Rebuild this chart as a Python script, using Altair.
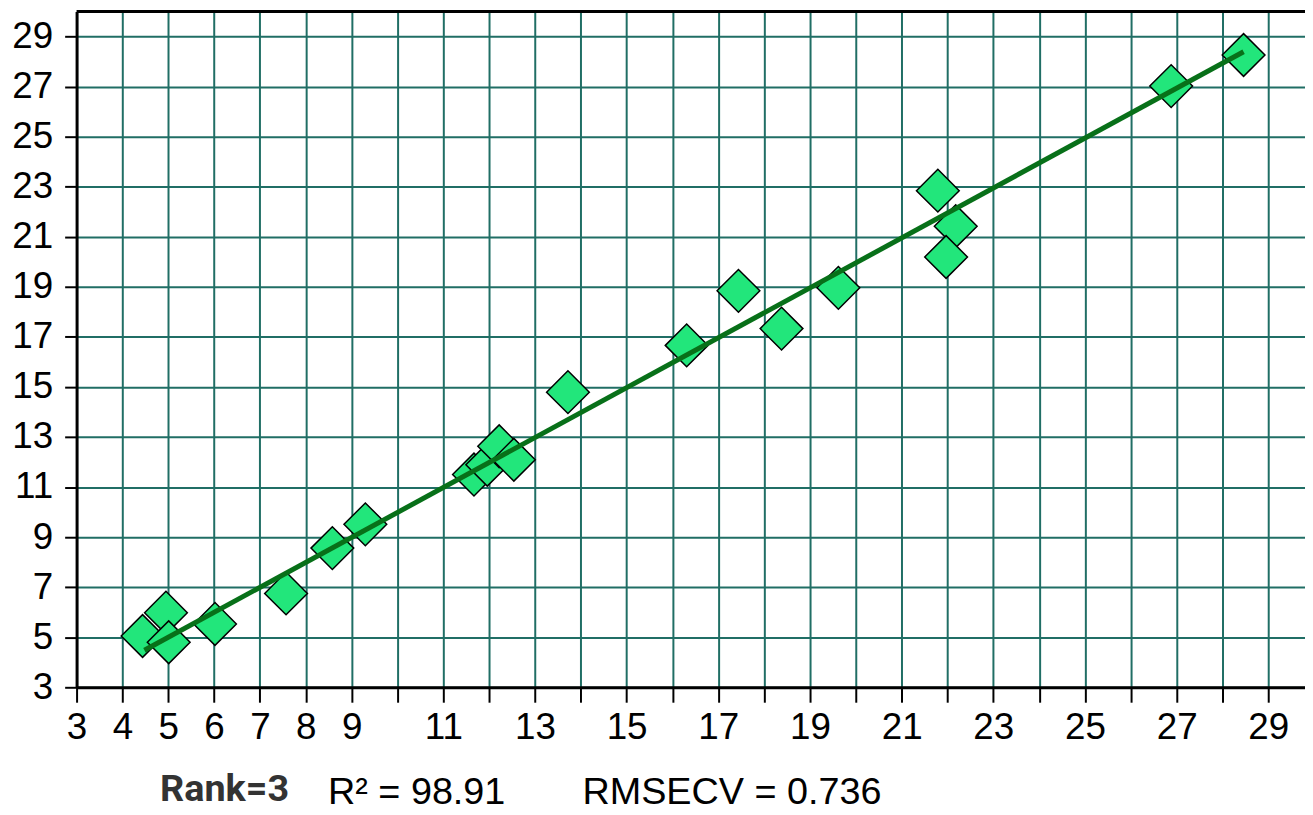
import altair as alt
import pandas as pd

# Reference (x) vs predicted (y) values
ref_values = [4.44, 4.95, 5.01, 6.02, 7.57, 8.58, 9.30, 11.67, 11.96, 12.22, 12.54,
              13.72, 16.31, 17.44, 18.38, 19.62, 21.79, 22.18, 21.97, 26.88, 28.46]
pred_values = [5.05, 5.98, 4.80, 5.53, 6.75, 8.56, 9.51, 11.50, 11.89, 12.63, 12.09,
               14.79, 16.66, 18.84, 17.33, 18.96, 22.84, 21.42, 20.19, 27.02, 28.26]

# Fitted line end points
fit_x = [4.48, 28.46]
fit_y = [4.48, 28.39]

x_ticks = list(range(3, 30))
y_ticks = list(range(3, 30, 2))

rank_text = ["Rank=3"]
stats_texts = ["R² = 98.91", "RMSECV = 0.736"]

pts = pd.DataFrame({"x": ref_values, "y": pred_values})
fit = pd.DataFrame({"x": fit_x, "y": fit_y})
top = pd.DataFrame({"y": [30]})
stats = pd.DataFrame({"t": stats_texts, "px": [253, 509]})
rank = pd.DataFrame({"t": rank_text})

GRID = "#206e65"
FONT = "Liberation Sans"

xscale = alt.Scale(domain=[3, 29.8], nice=False, zero=False)
yscale = alt.Scale(domain=[3, 30], nice=False, zero=False)

xaxis = alt.Axis(values=x_ticks, title=None,
                 labelExpr="(datum.value < 10 || datum.value % 2 == 1) ? datum.label : ''",
                 labelFont=FONT, labelFontSize=37, labelColor="black", labelPadding=8,
                 labelFlush=False, labelOverlap=False,
                 tickSize=15, tickColor="black", tickWidth=2,
                 domainColor="black", domainWidth=3,
                 grid=True, gridColor=GRID, gridWidth=2, gridOpacity=1)
yaxis = alt.Axis(values=y_ticks, title=None,
                 labelFont=FONT, labelFontSize=37, labelColor="black", labelPadding=12,
                 labelFlush=False, labelOverlap=False,
                 tickSize=12, tickColor="black", tickWidth=2,
                 domainColor="black", domainWidth=3,
                 grid=True, gridColor=GRID, gridWidth=2, gridOpacity=1)

points = alt.Chart(pts).mark_point(
    shape="diamond", filled=True, fill="#22e67b", stroke="black",
    strokeWidth=1.5, size=1850, opacity=1
).encode(
    x=alt.X("x:Q", scale=xscale, axis=xaxis),
    y=alt.Y("y:Q", scale=yscale, axis=yaxis),
)

line = alt.Chart(fit).mark_line(color="#087019", strokeWidth=5).encode(
    x=alt.X("x:Q", scale=xscale),
    y=alt.Y("y:Q", scale=yscale),
)

top_rule = alt.Chart(top).mark_rule(color="black", strokeWidth=3).encode(
    y=alt.Y("y:Q", scale=yscale)
)

stat_marks = alt.Chart(stats).mark_text(
    font=FONT, fontSize=38, color="black", align="left", baseline="alphabetic"
).encode(
    x=alt.X("px:Q", scale=None),
    y=alt.value(797),
    text="t:N",
)

rank_mark = alt.Chart(rank).mark_text(
    font="Roboto", fontSize=38, fontWeight="bold", color="#333333",
    align="left", baseline="alphabetic"
).encode(
    x=alt.value(84),
    y=alt.value(794),
    text="t:N",
)

chart = alt.layer(points, line, top_rule, stat_marks, rank_mark).properties(
    width=1236, height=680,
    autosize=alt.AutoSizeParams(type="none"),
    padding={"left": 69, "top": 1, "right": 0, "bottom": 125},
    background="white",
).configure_view(stroke=None)

chart.save("out.html", embed_options={"renderer": "svg", "actions": False})
